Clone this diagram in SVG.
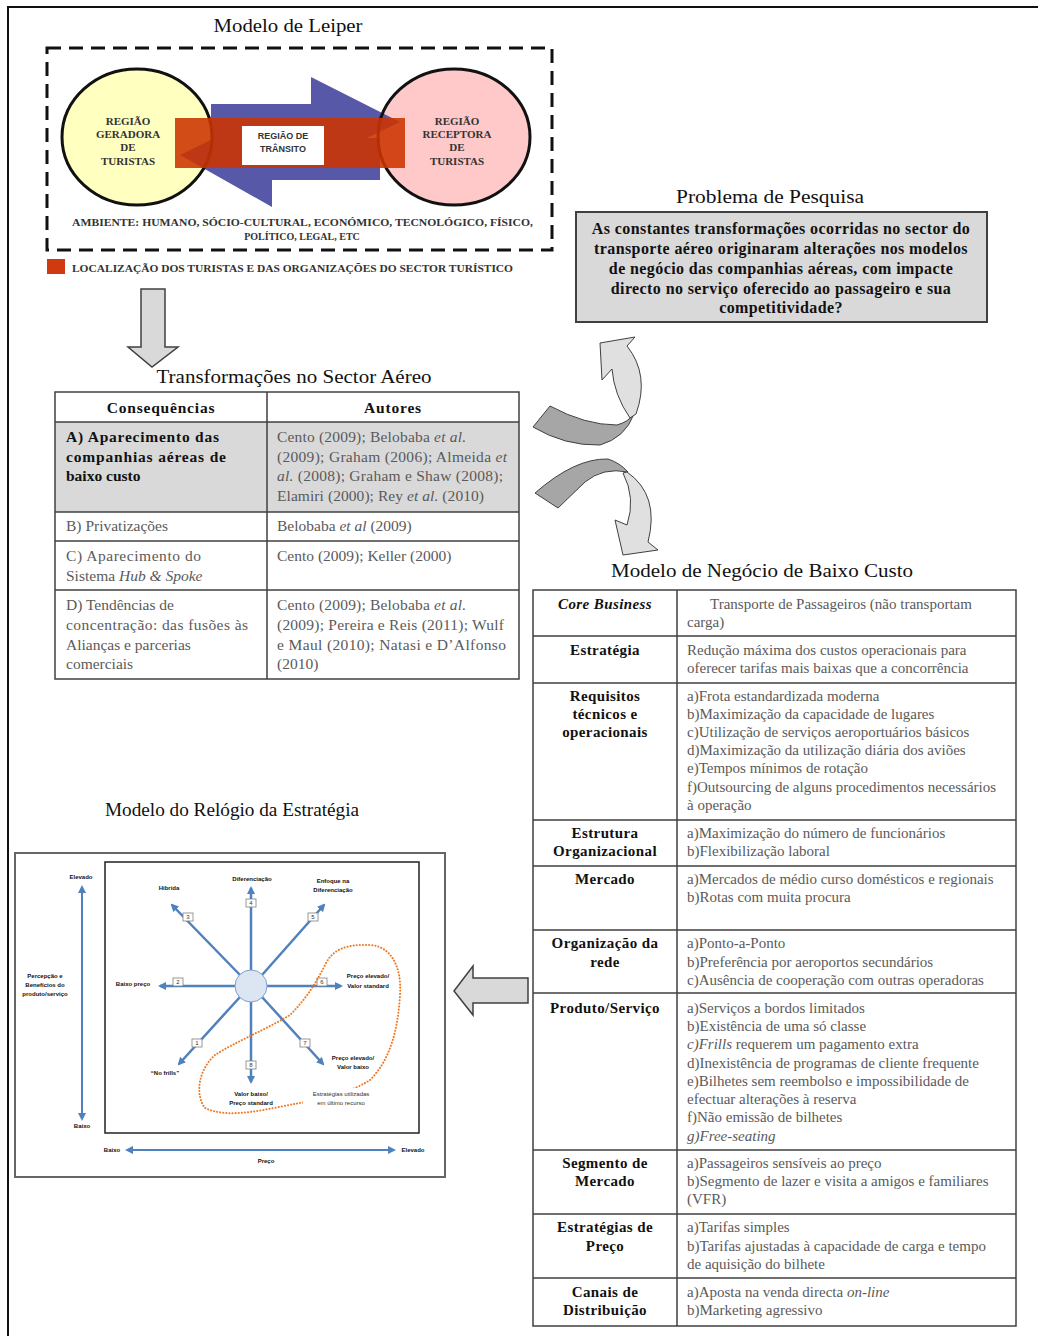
<svg xmlns="http://www.w3.org/2000/svg" width="1038" height="1336" viewBox="0 0 1038 1336">
<style>
.ser{font-family:"Liberation Serif",serif}
.title{font-family:"Liberation Serif",serif;font-size:19px;fill:#111;text-anchor:middle}
.lp{font-family:"Liberation Serif",serif;font-size:11px;font-weight:bold;fill:#333;text-anchor:middle}
.lp2{font-family:"Liberation Serif",serif;font-size:10px;font-weight:bold;fill:#333}
.t1{font-family:"Liberation Serif",serif;font-size:15.5px;fill:#5a5a5a}
.t1b{font-family:"Liberation Serif",serif;font-size:15.5px;font-weight:bold;fill:#111}
.hd{font-family:"Liberation Serif",serif;font-size:15.5px;font-weight:bold;fill:#111;text-anchor:middle;letter-spacing:0.8px}
.pb{font-family:"Liberation Serif",serif;font-size:16px;font-weight:bold;fill:#111;text-anchor:middle;letter-spacing:0.4px}
.t2{font-family:"Liberation Serif",serif;font-size:15px;fill:#5a5a5a}
.t2b{font-family:"Liberation Serif",serif;font-size:15px;font-weight:bold;fill:#111;text-anchor:middle;letter-spacing:0.4px}
.ck{font-family:"Liberation Sans",sans-serif;font-size:6px;font-weight:bold;fill:#111;text-anchor:middle}
.num{font-family:"Liberation Sans",sans-serif;font-size:6px;fill:#333;text-anchor:middle}
.grid{stroke:#404040;stroke-width:1.5;fill:none}
.blk{fill:#d9d9d9;stroke:#404040;stroke-width:1.5;stroke-linejoin:miter}
.spoke{stroke:#4f81bd;stroke-width:2.5;fill:none;marker-end:url(#ah)}
.axis{stroke:#4f81bd;stroke-width:2;fill:none;marker-end:url(#ah);marker-start:url(#ahs)}
.nb{fill:#fff;stroke:#7f7f7f;stroke-width:0.8}
</style>
<defs>
<marker id="ah" markerWidth="8" markerHeight="8" refX="6" refY="4" orient="auto" markerUnits="userSpaceOnUse"><path d="M0,0 L8,4 L0,8 Z" fill="#4f81bd"/></marker>
<marker id="ahs" markerWidth="8" markerHeight="8" refX="2" refY="4" orient="auto" markerUnits="userSpaceOnUse"><path d="M8,0 L0,4 L8,8 Z" fill="#4f81bd"/></marker>
</defs>
<rect x="0" y="0" width="1038" height="1336" fill="#fff"/>
<g id="frame"><path d="M8,1336 L8,7 L1038,7" fill="none" stroke="#111" stroke-width="2"/></g>

<g id="leiper">
<text class="title" x="288" y="32" textLength="149" lengthAdjust="spacingAndGlyphs">Modelo de Leiper</text>
<rect x="47" y="48" width="505" height="202" fill="none" stroke="#111" stroke-width="3" stroke-dasharray="14,8"/>
<ellipse cx="137" cy="137" rx="75" ry="68" fill="#ffffc0"/>
<ellipse cx="454" cy="137" rx="76" ry="68" fill="#ffc9c9"/>
<polygon points="380,138 380,180 272,180 272,207 180,155 272,110 272,138" fill="#5858a8"/>
<polygon points="211,104 311,104 311,77 400,122 311,165 311,150 211,150" fill="#5858a8"/>
<ellipse cx="137" cy="137" rx="75" ry="68" fill="none" stroke="#111" stroke-width="3"/>
<ellipse cx="454" cy="137" rx="76" ry="68" fill="none" stroke="#111" stroke-width="3"/>
<rect x="175" y="118" width="230" height="50" fill="#cc3300" opacity="0.88"/>
<rect x="242" y="126" width="82" height="39" fill="#fff"/>
<text x="283" y="139" style="font-family:'Liberation Sans',sans-serif;font-size:9px;font-weight:bold;fill:#333" text-anchor="middle">REGIÃO DE</text>
<text x="283" y="152" style="font-family:'Liberation Sans',sans-serif;font-size:9px;font-weight:bold;fill:#333" text-anchor="middle">TRÂNSITO</text>
<text class="lp" x="128" y="125">REGIÃO</text>
<text class="lp" x="128" y="138">GERADORA</text>
<text class="lp" x="128" y="151">DE</text>
<text class="lp" x="128" y="165">TURISTAS</text>
<text class="lp" x="457" y="125">REGIÃO</text>
<text class="lp" x="457" y="138">RECEPTORA</text>
<text class="lp" x="457" y="151">DE</text>
<text class="lp" x="457" y="165">TURISTAS</text>
<text class="lp2" x="72" y="226" textLength="461" lengthAdjust="spacingAndGlyphs">AMBIENTE: HUMANO, SÓCIO-CULTURAL, ECONÓMICO, TECNOLÓGICO, FÍSICO,</text>
<text class="lp2" x="302" y="240" text-anchor="middle">POLÍTICO, LEGAL, ETC</text>
<rect x="47" y="259" width="18" height="15" fill="#d03a10"/>
<text class="lp2" x="72" y="272" textLength="441" lengthAdjust="spacingAndGlyphs">LOCALIZAÇÃO DOS TURISTAS E DAS ORGANIZAÇÕES DO SECTOR TURÍSTICO</text>
</g>

<g id="problema">
<text class="title" x="770" y="203" textLength="188" lengthAdjust="spacingAndGlyphs">Problema de Pesquisa</text>
<rect x="576" y="212" width="411" height="110" fill="#d9d9d9" stroke="#404040" stroke-width="2"/>
<text class="pb" x="781" y="234">As constantes transformações ocorridas no sector do</text>
<text class="pb" x="781" y="254">transporte aéreo originaram alterações nos modelos</text>
<text class="pb" x="781" y="274">de negócio das companhias aéreas, com impacte</text>
<text class="pb" x="781" y="294">directo no serviço oferecido ao passageiro e sua</text>
<text class="pb" x="781" y="313">competitividade?</text>
</g>

<g id="transformacoes">
<text class="title" x="294" y="383" textLength="275" lengthAdjust="spacingAndGlyphs">Transformações no Sector Aéreo</text>
<rect x="55" y="422" width="464" height="90" fill="#d9d9d9"/>
<rect x="55" y="392" width="464" height="287" class="grid"/>
<path class="grid" d="M267,392 V679 M55,422 H519 M55,512 H519 M55,541 H519 M55,590 H519"/>
<text class="hd" x="161" y="413">Consequências</text>
<text class="hd" x="393" y="413">Autores</text>
<text class="t1b" x="66" y="442" textLength="153" lengthAdjust="spacing">A) Aparecimento das</text>
<text class="t1b" x="66" y="462" textLength="160" lengthAdjust="spacing">companhias aéreas de</text>
<text class="t1b" x="66" y="481">baixo custo</text>
<text class="t1" x="277" y="442" textLength="189" lengthAdjust="spacing">Cento (2009); Belobaba <tspan font-style="italic">et al.</tspan></text>
<text class="t1" x="277" y="462" textLength="230" lengthAdjust="spacing">(2009); Graham (2006); Almeida <tspan font-style="italic">et</tspan></text>
<text class="t1" x="277" y="481" textLength="226" lengthAdjust="spacing"><tspan font-style="italic">al.</tspan> (2008); Graham e Shaw (2008);</text>
<text class="t1" x="277" y="501" textLength="207" lengthAdjust="spacing">Elamiri (2000); Rey <tspan font-style="italic">et al.</tspan> (2010)</text>
<text class="t1" x="66" y="531">B) Privatizações</text>
<text class="t1" x="277" y="531">Belobaba <tspan font-style="italic">et al</tspan> (2009)</text>
<text class="t1" x="66" y="561" textLength="135" lengthAdjust="spacing">C) Aparecimento do</text>
<text class="t1" x="66" y="581">Sistema <tspan font-style="italic">Hub &amp; Spoke</tspan></text>
<text class="t1" x="277" y="561">Cento (2009); Keller (2000)</text>
<text class="t1" x="66" y="610">D) Tendências de</text>
<text class="t1" x="66" y="630" textLength="182" lengthAdjust="spacing">concentração: das fusões às</text>
<text class="t1" x="66" y="650">Alianças e parcerias</text>
<text class="t1" x="66" y="669">comerciais</text>
<text class="t1" x="277" y="610" textLength="189" lengthAdjust="spacing">Cento (2009); Belobaba <tspan font-style="italic">et al.</tspan></text>
<text class="t1" x="277" y="630" textLength="227" lengthAdjust="spacing">(2009); Pereira e Reis (2011); Wulf</text>
<text class="t1" x="277" y="650" textLength="229" lengthAdjust="spacing">e Maul (2010); Natasi e D’Alfonso</text>
<text class="t1" x="277" y="669">(2010)</text>
</g>

<g id="modelo-negocio">
<text class="title" x="762" y="577" textLength="302" lengthAdjust="spacingAndGlyphs">Modelo de Negócio de Baixo Custo</text>
<rect x="533" y="590" width="483" height="736" class="grid"/>
<path class="grid" d="M677,590 V1326 M533,636 H1016 M533,683 H1016 M533,820 H1016 M533,866 H1016 M533,930 H1016 M533,993 H1016 M533,1150 H1016 M533,1214 H1016 M533,1278 H1016"/>
<text class="t2b" x="605" y="609" font-style="italic">Core Business</text>
<text class="t2" x="710" y="609">Transporte de Passageiros (não transportam</text>
<text class="t2" x="687" y="627">carga)</text>
<text class="t2b" x="605" y="655">Estratégia</text>
<text class="t2" x="687" y="655">Redução máxima dos custos operacionais para</text>
<text class="t2" x="687" y="673">oferecer tarifas mais baixas que a concorrência</text>
<text class="t2b" x="605" y="701">Requisitos</text>
<text class="t2b" x="605" y="719">técnicos e</text>
<text class="t2b" x="605" y="737">operacionais</text>
<text class="t2" x="687" y="701">a)Frota estandardizada moderna</text>
<text class="t2" x="687" y="719">b)Maximização da capacidade de lugares</text>
<text class="t2" x="687" y="737">c)Utilização de serviços aeroportuários básicos</text>
<text class="t2" x="687" y="755">d)Maximização da utilização diária dos aviões</text>
<text class="t2" x="687" y="773">e)Tempos mínimos de rotação</text>
<text class="t2" x="687" y="792">f)Outsourcing de alguns procedimentos necessários</text>
<text class="t2" x="687" y="810">à operação</text>
<text class="t2b" x="605" y="838">Estrutura</text>
<text class="t2b" x="605" y="856">Organizacional</text>
<text class="t2" x="687" y="838">a)Maximização do número de funcionários</text>
<text class="t2" x="687" y="856">b)Flexibilização laboral</text>
<text class="t2b" x="605" y="884">Mercado</text>
<text class="t2" x="687" y="884">a)Mercados de médio curso domésticos e regionais</text>
<text class="t2" x="687" y="902">b)Rotas com muita procura</text>
<text class="t2b" x="605" y="948">Organização da</text>
<text class="t2b" x="605" y="967">rede</text>
<text class="t2" x="687" y="948">a)Ponto-a-Ponto</text>
<text class="t2" x="687" y="967">b)Preferência por aeroportos secundários</text>
<text class="t2" x="687" y="985">c)Ausência de cooperação com outras operadoras</text>
<text class="t2b" x="605" y="1013">Produto/Serviço</text>
<text class="t2" x="687" y="1013">a)Serviços a bordos limitados</text>
<text class="t2" x="687" y="1031">b)Existência de uma só classe</text>
<text class="t2" x="687" y="1049"><tspan font-style="italic">c)Frills</tspan> requerem um pagamento extra</text>
<text class="t2" x="687" y="1068">d)Inexistência de programas de cliente frequente</text>
<text class="t2" x="687" y="1086">e)Bilhetes sem reembolso e impossibilidade de</text>
<text class="t2" x="687" y="1104">efectuar alterações à reserva</text>
<text class="t2" x="687" y="1122">f)Não emissão de bilhetes</text>
<text class="t2" x="687" y="1141" font-style="italic">g)Free-seating</text>
<text class="t2b" x="605" y="1168">Segmento de</text>
<text class="t2b" x="605" y="1186">Mercado</text>
<text class="t2" x="687" y="1168">a)Passageiros sensíveis ao preço</text>
<text class="t2" x="687" y="1186">b)Segmento de lazer e visita a amigos e familiares</text>
<text class="t2" x="687" y="1204">(VFR)</text>
<text class="t2b" x="605" y="1232">Estratégias de</text>
<text class="t2b" x="605" y="1251">Preço</text>
<text class="t2" x="687" y="1232">a)Tarifas simples</text>
<text class="t2" x="687" y="1251">b)Tarifas ajustadas à capacidade de carga e tempo</text>
<text class="t2" x="687" y="1269">de aquisição do bilhete</text>
<text class="t2b" x="605" y="1297">Canais de</text>
<text class="t2b" x="605" y="1315">Distribuição</text>
<text class="t2" x="687" y="1297">a)Aposta na venda directa <tspan font-style="italic">on-line</tspan></text>
<text class="t2" x="687" y="1315">b)Marketing agressivo</text>
</g>

<g id="relogio">
<text class="title" x="232" y="816" textLength="254" lengthAdjust="spacingAndGlyphs">Modelo do Relógio da Estratégia</text>
<rect x="15" y="853" width="430" height="324" fill="#fff" stroke="#666" stroke-width="2"/>
<rect x="105" y="862" width="314" height="271" fill="#fff" stroke="#222" stroke-width="1.5"/>
<line class="axis" x1="82" y1="887" x2="82" y2="1119"/>
<line class="axis" x1="127" y1="1150" x2="394" y2="1150"/>
<text class="ck" x="81" y="879">Elevado</text>
<text class="ck" x="82" y="1128">Baixo</text>
<text class="ck" x="45" y="978">Percepção e</text>
<text class="ck" x="45" y="987">Benefícios do</text>
<text class="ck" x="45" y="996">produto/serviço</text>
<text class="ck" x="112" y="1152">Baixo</text>
<text class="ck" x="413" y="1152">Elevado</text>
<text class="ck" x="266" y="1163">Preço</text>
<line class="spoke" x1="251" y1="970" x2="251" y2="888"/>
<line class="spoke" x1="240" y1="975" x2="172" y2="905"/>
<line class="spoke" x1="262" y1="975" x2="324" y2="905"/>
<line class="spoke" x1="235" y1="986" x2="160" y2="986"/>
<line class="spoke" x1="267" y1="986" x2="341" y2="986"/>
<line class="spoke" x1="240" y1="997" x2="179" y2="1064"/>
<line class="spoke" x1="251" y1="1002" x2="251" y2="1082"/>
<line class="spoke" x1="262" y1="997" x2="323" y2="1064"/>
<circle cx="251" cy="986" r="16" fill="#dce6f2" stroke="#7f9fcf" stroke-width="1"/>
<rect class="nb" x="246" y="899" width="10" height="8"/><text class="num" x="251" y="905">4</text>
<rect class="nb" x="183" y="913" width="10" height="8"/><text class="num" x="188" y="919">3</text>
<rect class="nb" x="308" y="913" width="10" height="8"/><text class="num" x="313" y="919">5</text>
<rect class="nb" x="173" y="978" width="10" height="8"/><text class="num" x="178" y="984">2</text>
<rect class="nb" x="317" y="978" width="10" height="8"/><text class="num" x="322" y="984">6</text>
<rect class="nb" x="192" y="1039" width="10" height="8"/><text class="num" x="197" y="1045">1</text>
<rect class="nb" x="300" y="1039" width="10" height="8"/><text class="num" x="305" y="1045">7</text>
<rect class="nb" x="246" y="1061" width="10" height="8"/><text class="num" x="251" y="1067">8</text>
<text class="ck" x="252" y="881">Diferenciação</text>
<text class="ck" x="169" y="890">Híbrida</text>
<text class="ck" x="333" y="883">Enfoque na</text>
<text class="ck" x="333" y="892">Diferenciação</text>
<text class="ck" x="133" y="986">Baixo preço</text>
<text class="ck" x="368" y="978">Preço elevado/</text>
<text class="ck" x="368" y="988">Valor standard</text>
<text class="ck" x="165" y="1075">“No frills”</text>
<text class="ck" x="251" y="1096">Valor baixo/</text>
<text class="ck" x="251" y="1105">Preço standard</text>
<text class="ck" x="353" y="1060">Preço elevado/</text>
<text class="ck" x="353" y="1069">Valor baixo</text>
<path d="M300,1103 C270,1108 230,1120 205,1108 C195,1095 198,1070 215,1055 C235,1042 265,1030 290,1015 C305,1000 315,985 325,965 C332,950 345,944 370,945 C390,946 402,965 400,995 C398,1030 390,1060 370,1080 C355,1090 330,1098 300,1103 Z" fill="none" stroke="#f07820" stroke-width="2" stroke-dasharray="0.1,3" stroke-linecap="round"/>
<rect x="303" y="1088" width="76" height="20" fill="#fff"/>
<text x="341" y="1096" style="font-family:'Liberation Sans',sans-serif;font-size:6px;fill:#333" text-anchor="middle">Estratégias utilizadas</text>
<text x="341" y="1105" style="font-family:'Liberation Sans',sans-serif;font-size:6px;fill:#333" text-anchor="middle">em último recurso</text>
</g>

<g id="connectors">
<polygon class="blk" points="141,289 165,289 165,347 178,347 152,367 128,347 141,347"/>
<polygon class="blk" points="528,978 528,1003 473,1003 473,1015 454,991 473,966 473,978"/>
<path d="M533,427 L550,406 Q585,425 617,425 Q628,422 634,414 Q625,438 600,445 Q565,446 533,427 Z" fill="#a6a6a6" stroke="#404040" stroke-width="1"/>
<path d="M630,418 Q614,395 612,369 L602,380 L600,343 L635,337 L627,346 Q650,375 636,414 Z" fill="#e0e0e0" stroke="#404040" stroke-width="1"/>
<path d="M535,493 Q575,458 608,459 Q620,463 628,472 Q603,467 585,482 L558,508 Z" fill="#a6a6a6" stroke="#404040" stroke-width="1"/>
<path d="M623,473 Q636,498 627,525 L615,520 L623,555 L658,550 L648,542 Q660,495 627,472 Z" fill="#e0e0e0" stroke="#404040" stroke-width="1"/>
</g>
</svg>
